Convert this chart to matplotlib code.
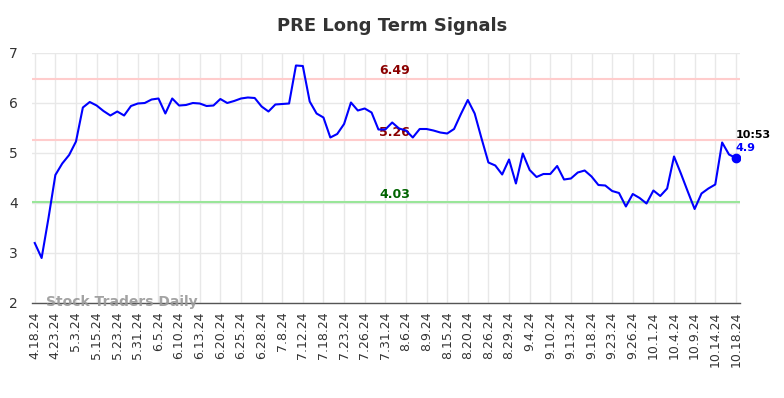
import matplotlib
matplotlib.use("Agg")
import matplotlib.pyplot as plt

values = [3.2, 2.9, 3.7, 4.56, 4.79, 4.96, 5.23, 5.91, 6.02, 5.95,
          5.84, 5.75, 5.83, 5.75, 5.94, 5.99, 6.0, 6.07, 6.09, 5.79,
          6.09, 5.95, 5.96, 6.0, 5.99, 5.94, 5.95, 6.08, 6.0, 6.04,
          6.09, 6.11, 6.1, 5.93, 5.83, 5.97, 5.98, 5.99, 6.75, 6.74,
          6.03, 5.79, 5.71, 5.31, 5.38, 5.58, 6.01, 5.85, 5.89, 5.81,
          5.47, 5.47, 5.61, 5.49, 5.45, 5.31, 5.48, 5.48, 5.45, 5.41,
          5.39, 5.48, 5.78, 6.06, 5.79, 5.29, 4.81, 4.75, 4.57, 4.87,
          4.39, 4.99, 4.66, 4.52, 4.58, 4.58, 4.74, 4.47, 4.49, 4.61,
          4.65, 4.53, 4.36, 4.35, 4.24, 4.2, 3.93, 4.18, 4.1, 3.99,
          4.25, 4.14, 4.29, 4.93, 4.59, 4.23, 3.88, 4.19, 4.29, 4.37,
          5.21, 4.97, 4.9]

tick_labels = ["4.18.24", "4.23.24", "5.3.24", "5.15.24", "5.23.24", "5.31.24",
               "6.5.24", "6.10.24", "6.13.24", "6.20.24", "6.25.24", "6.28.24",
               "7.8.24", "7.12.24", "7.18.24", "7.23.24", "7.26.24", "7.31.24",
               "8.6.24", "8.9.24", "8.15.24", "8.20.24", "8.26.24", "8.29.24",
               "9.4.24", "9.10.24", "9.13.24", "9.18.24", "9.23.24", "9.26.24",
               "10.1.24", "10.4.24", "10.9.24", "10.14.24", "10.18.24"]
tick_step = 3

upper_levels = [6.49, 5.26]
lower_level = 4.03
last_time = "10:53"
last_value = 4.9

fig = plt.figure(figsize=(7.84, 3.98), dpi=100)
ax = fig.add_axes([32/784, 1 - 303/398, (740-32)/784, (303-53)/398])

x = list(range(len(values)))
ax.set_xlim(-0.4, len(values) - 1 + 0.6)
ax.set_ylim(2, 7)

ax.set_xticks(x[::tick_step])
ax.set_xticklabels(tick_labels, rotation=90, fontsize=9, color="#333333")
ax.set_yticks([2, 3, 4, 5, 6, 7])
ax.tick_params(axis="y", labelsize=10, colors="#333333", length=0, pad=10)
ax.tick_params(axis="x", length=0, pad=6)
ax.grid(True, color="#e8e8e8", linewidth=1)
ax.set_axisbelow(True)
for s in ["top", "right", "left"]:
    ax.spines[s].set_visible(False)
ax.spines["bottom"].set_color("#555555")
ax.spines["bottom"].set_linewidth(1)

for lv in upper_levels:
    ax.axhline(lv, color="#ffcccc", linewidth=1.5, zorder=1)
ax.axhline(lower_level, color="#99e699", linewidth=1.5, zorder=1)

mid = 52.4
for lv in upper_levels:
    ax.text(mid, lv + 0.02, f"{lv:.2f}", color="#8b0000", fontsize=9,
            fontweight="bold", ha="center", va="bottom", zorder=3)
ax.text(mid, lower_level + 0.02, f"{lower_level:.2f}", color="#006400", fontsize=9,
        fontweight="bold", ha="center", va="bottom", zorder=3)

ax.plot(x, values, color="#0000ff", linewidth=1.5, zorder=4)
ax.plot([x[-1]], [values[-1]], "o", color="#0000ff", markersize=6, zorder=5)

ax.text(x[-1], values[-1] + 0.37, last_time, color="#000000", fontsize=8,
        fontweight="bold", ha="left", va="bottom")
ax.text(x[-1], values[-1] + 0.1, f"{last_value}", color="#0000ff", fontsize=8,
        fontweight="bold", ha="left", va="bottom")

ax.text(1.6, 2.02, "Stock Traders Daily", color="#999999", fontsize=10,
        fontweight="bold", ha="left", va="center", alpha=0.9)

fig.text(0.5, 1 - 26/398, "PRE Long Term Signals", ha="center", va="center",
         fontsize=13, fontweight="bold", color="#333333")

fig.savefig("out.png", dpi=100)
